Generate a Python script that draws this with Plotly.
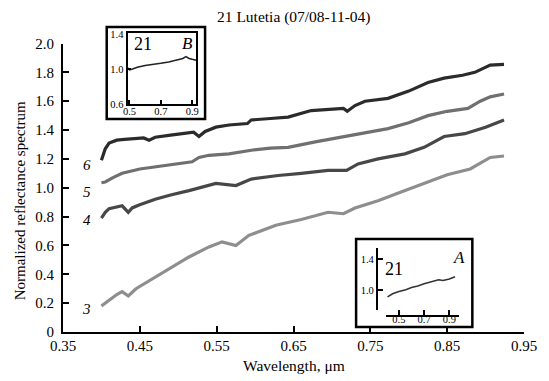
import plotly.graph_objects as go

# ---------------- data ----------------
wl6 = [0.400, 0.405, 0.410, 0.420, 0.430, 0.445, 0.455, 0.462, 0.470, 0.490, 0.510, 0.520, 0.527, 0.535,
       0.549, 0.566, 0.590, 0.595, 0.620, 0.643, 0.673, 0.700, 0.715, 0.720, 0.730, 0.743, 0.773, 0.800,
       0.825, 0.846, 0.870, 0.886, 0.906, 0.924]
r6 = [1.19, 1.27, 1.31, 1.33, 1.335, 1.34, 1.345, 1.33, 1.35, 1.365, 1.375, 1.385, 1.355, 1.39,
      1.42, 1.435, 1.445, 1.47, 1.48, 1.49, 1.535, 1.545, 1.55, 1.53, 1.57, 1.60, 1.62, 1.67,
      1.73, 1.76, 1.78, 1.80, 1.85, 1.855]

wl5 = [0.400, 0.405, 0.415, 0.427, 0.450, 0.471, 0.500, 0.518, 0.527, 0.540, 0.566, 0.595, 0.620, 0.643,
       0.680, 0.717, 0.745, 0.773, 0.800, 0.825, 0.850, 0.877, 0.893, 0.906, 0.924]
r5 = [1.035, 1.04, 1.07, 1.10, 1.13, 1.145, 1.165, 1.18, 1.21, 1.225, 1.235, 1.26, 1.275, 1.28,
      1.32, 1.355, 1.38, 1.41, 1.45, 1.50, 1.53, 1.55, 1.60, 1.63, 1.65]

wl4 = [0.400, 0.405, 0.410, 0.420, 0.427, 0.435, 0.440, 0.449, 0.470, 0.490, 0.514, 0.549, 0.575, 0.595,
       0.630, 0.660, 0.695, 0.719, 0.734, 0.760, 0.795, 0.820, 0.846, 0.873, 0.900, 0.924]
r4 = [0.79, 0.83, 0.855, 0.87, 0.875, 0.83, 0.86, 0.88, 0.92, 0.95, 0.98, 1.03, 1.015, 1.06,
      1.085, 1.10, 1.12, 1.12, 1.165, 1.20, 1.235, 1.28, 1.355, 1.375, 1.42, 1.47]

wl3 = [0.400, 0.410, 0.420, 0.427, 0.435, 0.445, 0.470, 0.490, 0.514, 0.540, 0.557, 0.575, 0.592, 0.627,
       0.660, 0.695, 0.715, 0.730, 0.760, 0.790, 0.821, 0.829, 0.850, 0.880, 0.906, 0.924]
r3 = [0.18, 0.22, 0.26, 0.28, 0.25, 0.30, 0.38, 0.44, 0.52, 0.59, 0.625, 0.60, 0.67, 0.74,
      0.78, 0.83, 0.82, 0.86, 0.91, 0.97, 1.03, 1.05, 1.09, 1.13, 1.21, 1.22]

curve_labels = ["6", "5", "4", "3"]
label_y = [1.155, 0.97, 0.775, 0.16]

# inset A
wlA = [0.41, 0.45, 0.50, 0.555, 0.60, 0.65, 0.70, 0.75, 0.815, 0.85, 0.90, 0.945]
rA = [0.91, 0.95, 0.98, 1.00, 1.03, 1.05, 1.08, 1.10, 1.13, 1.12, 1.14, 1.17]
# inset B
wlB = [0.49, 0.50, 0.52, 0.55, 0.60, 0.65, 0.70, 0.75, 0.80, 0.84, 0.86, 0.88, 0.90, 0.925]
rB = [1.01, 0.99, 1.00, 1.02, 1.04, 1.05, 1.065, 1.08, 1.10, 1.12, 1.14, 1.12, 1.11, 1.10]

xticks = [0.35, 0.45, 0.55, 0.65, 0.75, 0.85, 0.95]
yticks = [0, 0.2, 0.4, 0.6, 0.8, 1.0, 1.2, 1.4, 1.6, 1.8, 2.0]
ytick_text = ["0"] + [f"{v:.1f}" for v in yticks[1:]]
inset_xticks = [0.5, 0.7, 0.9]

# ---------------- figure ----------------
FONT = "Times New Roman, Liberation Serif, serif"
W, H = 549, 381
ML, MR, MT, MB = 63, 22, 20, 49
PW, PH = W - ML - MR, H - MT - MB


def px(x):
    return (x - ML) / PW


def py(y):
    return (H - MB - y) / PH


fig = go.Figure()
series = [(wl6, r6, "#2b2b2b"), (wl5, r5, "#707070"), (wl4, r4, "#474747"), (wl3, r3, "#8e8e8e")]
for (xs, ys, c) in series:
    fig.add_trace(go.Scatter(x=xs, y=ys, mode="lines", line=dict(color=c, width=3.2),
                             xaxis="x", yaxis="y", showlegend=False, hoverinfo="skip"))
fig.add_trace(go.Scatter(x=wlB, y=rB, mode="lines", line=dict(color="#222", width=1.6),
                         xaxis="x2", yaxis="y2", showlegend=False))
fig.add_trace(go.Scatter(x=wlA, y=rA, mode="lines", line=dict(color="#333", width=1.6),
                         xaxis="x3", yaxis="y3", showlegend=False))

axis_common = dict(showgrid=False, zeroline=False, showline=True, linecolor="black",
                   ticks="inside", tickcolor="black")

fig.update_layout(
    width=W, height=H, margin=dict(l=ML, r=MR, t=MT, b=MB),
    plot_bgcolor="white", paper_bgcolor="white",
    font=dict(family=FONT, size=15, color="black"),
    xaxis=dict(axis_common, domain=[0, 1], range=[0.35, 0.95], tickvals=xticks,
               ticktext=[f"{v:.2f}" for v in xticks], linewidth=2, tickwidth=2, ticklen=6,
               anchor="y", ticklabelstandoff=-1),
    yaxis=dict(axis_common, domain=[0, py(43.5)], range=[0, 2.0], tickvals=yticks,
               ticktext=ytick_text, linewidth=2, tickwidth=2, ticklen=6, anchor="x",
               ticklabelstandoff=4),
    xaxis2=dict(axis_common, domain=[px(128), px(197)], range=[0.488, 0.925], anchor="y2",
                tickvals=inset_xticks, ticktext=["0.5", "0.7", "0.9"], mirror=True,
                linewidth=2, tickwidth=2, ticklen=4, tickfont=dict(size=10.5),
                ticklabelstandoff=-4),
    yaxis2=dict(axis_common, domain=[py(104), py(33)], range=[0.6, 1.41], anchor="x2",
                tickvals=[0.6, 1.0, 1.4], ticktext=["0.6", "1.0", "1.4"], mirror=True,
                linewidth=2, tickwidth=1.5, ticklen=3, tickfont=dict(size=10.5)),
    xaxis3=dict(axis_common, domain=[px(388), px(462)], range=[0.397, 0.98], anchor="free",
                position=py(315.7), tickvals=inset_xticks, ticktext=["0.5", "0.7", "0.9"],
                linewidth=2, tickwidth=2, ticklen=5, tickfont=dict(size=10.5),
                ticklabelstandoff=-6),
    yaxis3=dict(axis_common, domain=[py(310), py(248)], range=[0.74, 1.54], anchor="free",
                position=px(379), tickvals=[1.0, 1.4], ticktext=["1.0", "1.4"],
                linewidth=2, tickwidth=2, ticklen=5, tickfont=dict(size=10.5)),
)

# inset frames
fig.add_shape(type="rect", xref="paper", yref="paper", x0=px(107), x1=px(206), y0=py(119), y1=py(27),
              line=dict(color="black", width=2.5))
fig.add_shape(type="rect", xref="paper", yref="paper", x0=px(358), x1=px(475), y0=py(327), y1=py(239),
              line=dict(color="black", width=2.5))

ann = []
ann.append(dict(text="21 Lutetia (07/08-11-04)", xref="paper", yref="paper", x=0.5, y=py(16.5),
                showarrow=False, font=dict(size=15.5), xanchor="center", yanchor="middle"))
ann.append(dict(text="Wavelength, μm", xref="paper", yref="paper", x=0.5, y=py(365),
                showarrow=False, font=dict(size=15.5), xanchor="center", yanchor="middle"))
ann.append(dict(text="Normalized reflectance spectrum", xref="paper", yref="paper", x=px(20), y=py(201),
                showarrow=False, font=dict(size=15), textangle=-90, xanchor="center", yanchor="middle"))
for t, yv in zip(curve_labels, label_y):
    ann.append(dict(text=f"<i>{t}</i>", xref="x", yref="y", x=0.381, y=yv, showarrow=False,
                    font=dict(size=15), xanchor="center", yanchor="middle"))
ann.append(dict(text="21", xref="paper", yref="paper", x=px(144), y=py(44), showarrow=False,
                font=dict(size=18), xanchor="center", yanchor="middle"))
ann.append(dict(text="<i>B</i>", xref="paper", yref="paper", x=px(188), y=py(44), showarrow=False,
                font=dict(size=17), xanchor="center", yanchor="middle"))
ann.append(dict(text="21", xref="paper", yref="paper", x=px(396), y=py(269), showarrow=False,
                font=dict(size=18), xanchor="center", yanchor="middle"))
ann.append(dict(text="<i>A</i>", xref="paper", yref="paper", x=px(462), y=py(257), showarrow=False,
                font=dict(size=17), xanchor="center", yanchor="middle"))
fig.update_layout(annotations=ann)

fig.write_html("out.html")
